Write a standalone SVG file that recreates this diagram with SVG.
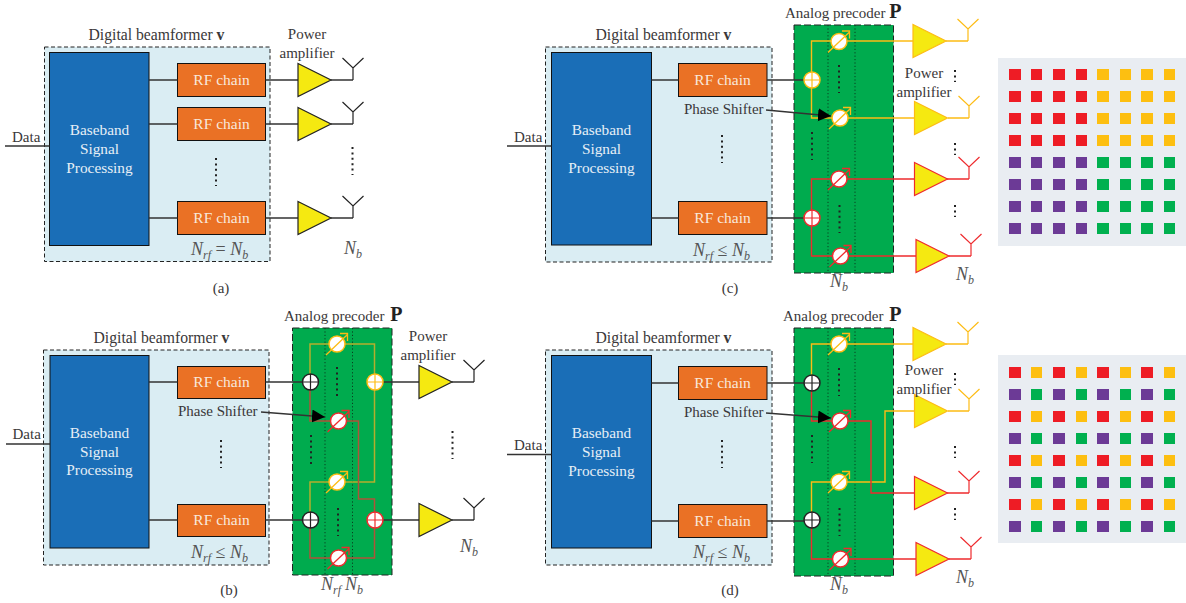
<svg xmlns="http://www.w3.org/2000/svg" width="1186" height="603" viewBox="0 0 1186 603">
<style>
text{font-family:"Liberation Serif","Times New Roman",serif;font-size:15px;fill:#3a3839}
.m{text-anchor:middle}
.d{font-size:15.7px}
.w{fill:#e6eef6;font-size:15.3px}
.rf{fill:#f8e8dc;font-size:15.5px}
.i{font-style:italic;font-size:18px;fill:#555}
.s{font-style:italic;font-size:12px;fill:#555}
.Pb{font-weight:bold;font-size:20px;fill:#222}
.dig{fill:#daedf3;stroke:#222;stroke-width:1;stroke-dasharray:4 2.5}
.bb{fill:#1a6eb7;stroke:#111;stroke-width:1}
.rfb{fill:#ea7125;stroke:#111;stroke-width:1}
.green{fill:#00ab4e;stroke:#222;stroke-width:1;stroke-dasharray:7 3}
.l{fill:none;stroke:#333;stroke-width:1.3}
.y{fill:none;stroke:#fdbc15;stroke-width:1.4}
.r{fill:none;stroke:#ee2b2e;stroke-width:1.4}
.yb{fill:none;stroke:#b5ae2c;stroke-width:1.5}
.rb{fill:none;stroke:#b0533a;stroke-width:1.5}
.dots{fill:none;stroke:#222;stroke-width:2;stroke-dasharray:2 3.4}
.fine{fill:none;stroke:#0a3d20;stroke-width:1;stroke-dasharray:1.2 2.2}
.bg{fill:#e9edf2}
.cK{color:#222}.cY{color:#fdbc15}.cR{color:#ee2b2e}
.R{fill:#ee1c25}.A{fill:#fdbf11}.P{fill:#6c3a96}.G{fill:#00b04f}
</style>
<defs>
<g id="ps"><circle r="8" fill="#fff" stroke="currentColor" stroke-width="1.5"/><path d="M-11 11L10.500-9.500M3-10.500H10.500V-3" fill="none" stroke="currentColor" stroke-width="1.3"/></g>
<g id="add"><circle r="8" fill="#fff" stroke="currentColor" stroke-width="1.5"/><path d="M-8 0H8M0-8V8" fill="none" stroke="currentColor" stroke-width="1.2"/></g>
<polygon id="amp" points="0,-16.500 33,0 0,16.500" fill="#f5e911" stroke="currentColor" stroke-width="1.2"/>
<path id="ant" d="M-10.500-22L0-12L10.500-22M0-12V0" fill="none" stroke="currentColor" stroke-width="1.2"/>
<marker id="ah" markerUnits="userSpaceOnUse" markerWidth="14" markerHeight="14" refX="13" refY="6.500" orient="auto"><path d="M0 0L13 6.500L0 13Z" fill="#000"/></marker>
</defs>

<g id="panel-a">
<g id="a-digital"><rect class="dig" x="44.500" y="47" width="225.500" height="214.500"/><text class="m d" x="156.500" y="40">Digital beamformer <tspan font-weight="bold">v</tspan></text></g>
<g id="a-baseband"><rect class="bb" x="49.500" y="52.500" width="99.500" height="193"/><text class="m w" x="99.500" y="135">Baseband</text><text class="m w" x="99.500" y="154">Signal</text><text class="m w" x="99.500" y="173">Processing</text></g>
<g id="a-rf1"><rect class="rfb" x="177.500" y="63.500" width="88" height="33"/><text class="m rf" x="221.500" y="85">RF chain</text></g>
<g id="a-rf2"><rect class="rfb" x="177.500" y="107.500" width="88" height="33"/><text class="m rf" x="221.500" y="129">RF chain</text></g>
<g id="a-rf3"><rect class="rfb" x="177.500" y="201.500" width="88" height="33"/><text class="m rf" x="221.500" y="223">RF chain</text></g>
<g id="a-conn">
<path class="l" d="M5 146H49.500M149 80H177.500M149 124H177.500M149 218H177.500M265.500 80H298M265.500 124H298M265.500 218H298M331 80H353M331 124H353M331 218H353"/>
<path class="dots" d="M216 158V186M352.500 147V175"/>
</g>
<g id="a-amp1" class="cK"><use href="#amp" x="298" y="80"/><use href="#ant" x="353" y="80"/></g>
<g id="a-amp2" class="cK"><use href="#amp" x="298" y="124"/><use href="#ant" x="353" y="124"/></g>
<g id="a-amp3" class="cK"><use href="#amp" x="298" y="218"/><use href="#ant" x="353" y="218"/></g>
<text x="12" y="142">Data</text>
<text class="m" x="307" y="39">Power</text><text class="m" x="307" y="58">amplifier</text>
<text class="i" x="191" y="255">N<tspan class="s" dy="4">rf</tspan><tspan dy="-4" font-style="normal"> = </tspan>N<tspan class="s" dy="4">b</tspan></text>
<text class="i" x="344" y="254">N<tspan class="s" dy="4">b</tspan></text>
<text class="m" x="221" y="293">(a)</text>
</g>

<g id="panel-b">
<g id="b-digital"><rect class="dig" x="43.500" y="350" width="225.500" height="215"/><text class="m d" x="161.500" y="343">Digital beamformer <tspan font-weight="bold">v</tspan></text></g>
<g id="b-baseband"><rect class="bb" x="50" y="355.500" width="99" height="192.500"/><text class="m w" x="99.500" y="438">Baseband</text><text class="m w" x="99.500" y="457">Signal</text><text class="m w" x="99.500" y="475">Processing</text></g>
<g id="b-rf1"><rect class="rfb" x="177.500" y="366.500" width="88" height="32"/><text class="m rf" x="221.500" y="387">RF chain</text></g>
<g id="b-rf2"><rect class="rfb" x="177.500" y="504.500" width="88" height="32"/><text class="m rf" x="221.500" y="525">RF chain</text></g>
<g id="b-precoder"><rect class="green" x="292.500" y="328" width="99.500" height="247"/><text x="284" y="321">Analog precoder <tspan class="Pb" dx="2">P</tspan></text></g>
<g id="b-conn">
<path class="fine" d="M325 328V575M352.500 328V575"/>
<path class="yb" d="M310 382V344H374.500V382M374.500 382V482H310V520"/>
<path class="rb" d="M310 382V421H358.500V499H374.500V558H310V520"/>
<path class="l" d="M6 444H50M149 382H177.500M149 520H177.500M265.500 382H310M265.500 520H310M375 382H419M375 520H419M452 382H474M452 520H474"/>
<path class="dots" d="M221 440V468M337 367V396M311 435V464M338 508V536M452.500 431V459"/>
<path class="l" d="M261 412L325 417" marker-end="url(#ah)"/>
</g>
<g id="b-ps1" class="cY"><use href="#ps" x="337" y="344"/></g>
<g id="b-ps2" class="cR"><use href="#ps" x="338.500" y="421"/></g>
<g id="b-ps3" class="cY"><use href="#ps" x="337" y="482"/></g>
<g id="b-ps4" class="cR"><use href="#ps" x="338.500" y="558"/></g>
<g id="b-add1" class="cK"><use href="#add" x="310.500" y="382"/></g>
<g id="b-add2" class="cK"><use href="#add" x="310.500" y="520"/></g>
<g id="b-add3" class="cY"><use href="#add" x="375" y="382"/></g>
<g id="b-add4" class="cR"><use href="#add" x="375" y="520"/></g>
<g id="b-amp1" class="cK"><use href="#amp" x="419" y="382"/><use href="#ant" x="474" y="382"/></g>
<g id="b-amp2" class="cK"><use href="#amp" x="419" y="520"/><use href="#ant" x="474" y="520"/></g>
<text x="12.500" y="439">Data</text>
<text x="178" y="416">Phase Shifter</text>
<text class="m" x="428" y="341">Power</text><text class="m" x="428" y="360">amplifier</text>
<text class="i" x="191" y="558">N<tspan class="s" dy="4">rf</tspan><tspan dy="-4" font-style="normal"> ≤ </tspan>N<tspan class="s" dy="4">b</tspan></text>
<text class="i" x="460" y="552">N<tspan class="s" dy="4">b</tspan></text>
<text class="i" x="321" y="590">N<tspan class="s" dy="4">rf</tspan></text>
<text class="i" x="345" y="590">N<tspan class="s" dy="4">b</tspan></text>
<text class="m" x="229" y="595">(b)</text>
</g>

<g id="panel-c">
<g id="c-digital"><rect class="dig" x="545.500" y="47" width="226.500" height="215"/><text class="m d" x="663.500" y="40">Digital beamformer <tspan font-weight="bold">v</tspan></text></g>
<g id="c-baseband"><rect class="bb" x="551.500" y="52.500" width="100" height="192.500"/><text class="m w" x="601.500" y="135">Baseband</text><text class="m w" x="601.500" y="154">Signal</text><text class="m w" x="601.500" y="173">Processing</text></g>
<g id="c-rf1"><rect class="rfb" x="678.500" y="63.500" width="88.500" height="33"/><text class="m rf" x="722.500" y="85">RF chain</text></g>
<g id="c-rf2"><rect class="rfb" x="678.500" y="201.500" width="88.500" height="33"/><text class="m rf" x="722.500" y="223">RF chain</text></g>
<g id="c-precoder"><rect class="green" x="794" y="25" width="99.500" height="248"/><text x="785" y="18">Analog precoder <tspan class="Pb">P</tspan></text></g>
<g id="c-conn">
<path class="fine" d="M828 25V273M855 25V273"/>
<path class="y" d="M913 41H811.500V118H914M946 41H968M948 118H969"/>
<path class="r" d="M914.500 179H811.500V256H916M947 179H969M949 256H971"/>
<path class="l" d="M507 146H551.500M651.500 80H678.500M651.500 218H678.500M767 80H812M767 218H812"/>
<path class="dots" d="M722 135V163M839 65V93M812 132V160M839.500 205V233M955 70V82M955 143V155M955 205V217"/>
<path class="l" d="M766 110L831 116" marker-end="url(#ah)"/>
</g>
<g id="c-ps1" class="cY"><use href="#ps" x="839" y="41.500"/></g>
<g id="c-ps2" class="cY"><use href="#ps" x="840" y="118"/></g>
<g id="c-ps3" class="cR"><use href="#ps" x="839" y="179"/></g>
<g id="c-ps4" class="cR"><use href="#ps" x="840.500" y="256"/></g>
<g id="c-add1" class="cY"><use href="#add" x="812" y="80"/></g>
<g id="c-add2" class="cR"><use href="#add" x="812" y="218"/></g>
<g id="c-amp1" class="cY"><use href="#amp" x="913" y="41"/><use href="#ant" x="968" y="41"/></g>
<g id="c-amp2" class="cY"><use href="#amp" x="914.500" y="118"/><use href="#ant" x="969" y="118"/></g>
<g id="c-amp3" class="cR"><use href="#amp" x="914.500" y="179"/><use href="#ant" x="969" y="179"/></g>
<g id="c-amp4" class="cR"><use href="#amp" x="916" y="256"/><use href="#ant" x="971" y="256"/></g>
<text x="514" y="142">Data</text>
<text x="684" y="114">Phase Shifter</text>
<text class="m" x="924" y="78">Power</text><text class="m" x="924" y="97">amplifier</text>
<text class="i" x="693" y="256">N<tspan class="s" dy="4">rf</tspan><tspan dy="-4" font-style="normal"> ≤ </tspan>N<tspan class="s" dy="4">b</tspan></text>
<text class="i" x="830" y="287">N<tspan class="s" dy="4">b</tspan></text>
<text class="i" x="956" y="280">N<tspan class="s" dy="4">b</tspan></text>
<text class="m" x="730" y="293">(c)</text>
</g>

<g id="panel-d">
<g id="d-digital"><rect class="dig" x="545.500" y="350" width="226.500" height="215"/><text class="m d" x="663.500" y="343">Digital beamformer <tspan font-weight="bold">v</tspan></text></g>
<g id="d-baseband"><rect class="bb" x="551.500" y="355.500" width="100" height="192.500"/><text class="m w" x="601.500" y="438">Baseband</text><text class="m w" x="601.500" y="457">Signal</text><text class="m w" x="601.500" y="476">Processing</text></g>
<g id="d-rf1"><rect class="rfb" x="678.500" y="366.500" width="88.500" height="33"/><text class="m rf" x="722.500" y="388">RF chain</text></g>
<g id="d-rf2"><rect class="rfb" x="678.500" y="504.500" width="88.500" height="33"/><text class="m rf" x="722.500" y="526">RF chain</text></g>
<g id="d-precoder"><rect class="green" x="794" y="328" width="99.500" height="248"/><text x="783" y="321">Analog precoder <tspan class="Pb" dx="2">P</tspan></text></g>
<g id="d-conn">
<path class="fine" d="M828 328V576M855 328V576"/>
<path class="y" d="M913 344H811.500V383M811.500 520V482H885V411H914.500M946 344H968M948 411H969"/>
<path class="r" d="M811.500 383V421H871V493H914.500M811.500 520V559H916M947 493H969M949 559H971"/>
<path class="l" d="M507 454.500H551.500M651.500 383H678.500M651.500 521H678.500M767 383H812M767 521H812"/>
<path class="dots" d="M722 440V468M839 368V396M812 435V463M839.500 508V536M955 373V385M955 446V458M955 508V520"/>
<path class="l" d="M766 413L831 418" marker-end="url(#ah)"/>
</g>
<g id="d-ps1" class="cY"><use href="#ps" x="839" y="344"/></g>
<g id="d-ps2" class="cR"><use href="#ps" x="840" y="421"/></g>
<g id="d-ps3" class="cY"><use href="#ps" x="839" y="482"/></g>
<g id="d-ps4" class="cR"><use href="#ps" x="840.500" y="559"/></g>
<g id="d-add1" class="cK"><use href="#add" x="812" y="383"/></g>
<g id="d-add2" class="cK"><use href="#add" x="812" y="520"/></g>
<g id="d-amp1" class="cY"><use href="#amp" x="913" y="344"/><use href="#ant" x="968" y="344"/></g>
<g id="d-amp2" class="cY"><use href="#amp" x="914.500" y="411"/><use href="#ant" x="969" y="411"/></g>
<g id="d-amp3" class="cR"><use href="#amp" x="914.500" y="493"/><use href="#ant" x="969" y="493"/></g>
<g id="d-amp4" class="cR"><use href="#amp" x="916" y="559"/><use href="#ant" x="971" y="559"/></g>
<text x="514" y="450">Data</text>
<text x="684" y="417">Phase Shifter</text>
<text class="m" x="924" y="375">Power</text><text class="m" x="924" y="394">amplifier</text>
<text class="i" x="693" y="558">N<tspan class="s" dy="4">rf</tspan><tspan dy="-4" font-style="normal"> ≤ </tspan>N<tspan class="s" dy="4">b</tspan></text>
<text class="i" x="830" y="590">N<tspan class="s" dy="4">b</tspan></text>
<text class="i" x="956" y="583">N<tspan class="s" dy="4">b</tspan></text>
<text class="m" x="730" y="595">(d)</text>
</g>

<g id="grid-1">
<rect class="bg" x="998" y="58" width="188" height="188"/>
<g class="R"><rect x="1009" y="69" width="12" height="11"/><rect x="1031" y="69" width="11" height="11"/><rect x="1053" y="69" width="12" height="11"/><rect x="1076" y="69" width="11" height="11"/><rect x="1009" y="91" width="12" height="11"/><rect x="1031" y="91" width="11" height="11"/><rect x="1053" y="91" width="12" height="11"/><rect x="1076" y="91" width="11" height="11"/><rect x="1009" y="113" width="12" height="11"/><rect x="1031" y="113" width="11" height="11"/><rect x="1053" y="113" width="12" height="11"/><rect x="1076" y="113" width="11" height="11"/><rect x="1009" y="135" width="12" height="11"/><rect x="1031" y="135" width="11" height="11"/><rect x="1053" y="135" width="12" height="11"/><rect x="1076" y="135" width="11" height="11"/></g>
<g class="A"><rect x="1097" y="69" width="12" height="11"/><rect x="1120" y="69" width="11" height="11"/><rect x="1141" y="69" width="12" height="11"/><rect x="1164" y="69" width="11" height="11"/><rect x="1097" y="91" width="12" height="11"/><rect x="1120" y="91" width="11" height="11"/><rect x="1141" y="91" width="12" height="11"/><rect x="1164" y="91" width="11" height="11"/><rect x="1097" y="113" width="12" height="11"/><rect x="1120" y="113" width="11" height="11"/><rect x="1141" y="113" width="12" height="11"/><rect x="1164" y="113" width="11" height="11"/><rect x="1097" y="135" width="12" height="11"/><rect x="1120" y="135" width="11" height="11"/><rect x="1141" y="135" width="12" height="11"/><rect x="1164" y="135" width="11" height="11"/></g>
<g class="P"><rect x="1009" y="157" width="12" height="11"/><rect x="1031" y="157" width="11" height="11"/><rect x="1053" y="157" width="12" height="11"/><rect x="1076" y="157" width="11" height="11"/><rect x="1009" y="179" width="12" height="11"/><rect x="1031" y="179" width="11" height="11"/><rect x="1053" y="179" width="12" height="11"/><rect x="1076" y="179" width="11" height="11"/><rect x="1009" y="201" width="12" height="11"/><rect x="1031" y="201" width="11" height="11"/><rect x="1053" y="201" width="12" height="11"/><rect x="1076" y="201" width="11" height="11"/><rect x="1009" y="223" width="12" height="11"/><rect x="1031" y="223" width="11" height="11"/><rect x="1053" y="223" width="12" height="11"/><rect x="1076" y="223" width="11" height="11"/></g>
<g class="G"><rect x="1097" y="157" width="12" height="11"/><rect x="1120" y="157" width="11" height="11"/><rect x="1141" y="157" width="12" height="11"/><rect x="1164" y="157" width="11" height="11"/><rect x="1097" y="179" width="12" height="11"/><rect x="1120" y="179" width="11" height="11"/><rect x="1141" y="179" width="12" height="11"/><rect x="1164" y="179" width="11" height="11"/><rect x="1097" y="201" width="12" height="11"/><rect x="1120" y="201" width="11" height="11"/><rect x="1141" y="201" width="12" height="11"/><rect x="1164" y="201" width="11" height="11"/><rect x="1097" y="223" width="12" height="11"/><rect x="1120" y="223" width="11" height="11"/><rect x="1141" y="223" width="12" height="11"/><rect x="1164" y="223" width="11" height="11"/></g>
</g>

<g id="grid-2">
<rect class="bg" x="998" y="355" width="188" height="188"/>
<g class="R"><rect x="1009" y="367" width="12" height="11"/><rect x="1053" y="367" width="12" height="11"/><rect x="1097" y="367" width="12" height="11"/><rect x="1141" y="367" width="12" height="11"/><rect x="1009" y="411" width="12" height="11"/><rect x="1053" y="411" width="12" height="11"/><rect x="1097" y="411" width="12" height="11"/><rect x="1141" y="411" width="12" height="11"/><rect x="1009" y="455" width="12" height="11"/><rect x="1053" y="455" width="12" height="11"/><rect x="1097" y="455" width="12" height="11"/><rect x="1141" y="455" width="12" height="11"/><rect x="1009" y="499" width="12" height="11"/><rect x="1053" y="499" width="12" height="11"/><rect x="1097" y="499" width="12" height="11"/><rect x="1141" y="499" width="12" height="11"/></g>
<g class="A"><rect x="1031" y="367" width="11" height="11"/><rect x="1076" y="367" width="11" height="11"/><rect x="1120" y="367" width="11" height="11"/><rect x="1164" y="367" width="11" height="11"/><rect x="1031" y="411" width="11" height="11"/><rect x="1076" y="411" width="11" height="11"/><rect x="1120" y="411" width="11" height="11"/><rect x="1164" y="411" width="11" height="11"/><rect x="1031" y="455" width="11" height="11"/><rect x="1076" y="455" width="11" height="11"/><rect x="1120" y="455" width="11" height="11"/><rect x="1164" y="455" width="11" height="11"/><rect x="1031" y="499" width="11" height="11"/><rect x="1076" y="499" width="11" height="11"/><rect x="1120" y="499" width="11" height="11"/><rect x="1164" y="499" width="11" height="11"/></g>
<g class="P"><rect x="1009" y="389" width="12" height="11"/><rect x="1053" y="389" width="12" height="11"/><rect x="1097" y="389" width="12" height="11"/><rect x="1141" y="389" width="12" height="11"/><rect x="1009" y="433" width="12" height="11"/><rect x="1053" y="433" width="12" height="11"/><rect x="1097" y="433" width="12" height="11"/><rect x="1141" y="433" width="12" height="11"/><rect x="1009" y="477" width="12" height="11"/><rect x="1053" y="477" width="12" height="11"/><rect x="1097" y="477" width="12" height="11"/><rect x="1141" y="477" width="12" height="11"/><rect x="1009" y="521" width="12" height="11"/><rect x="1053" y="521" width="12" height="11"/><rect x="1097" y="521" width="12" height="11"/><rect x="1141" y="521" width="12" height="11"/></g>
<g class="G"><rect x="1031" y="389" width="11" height="11"/><rect x="1076" y="389" width="11" height="11"/><rect x="1120" y="389" width="11" height="11"/><rect x="1164" y="389" width="11" height="11"/><rect x="1031" y="433" width="11" height="11"/><rect x="1076" y="433" width="11" height="11"/><rect x="1120" y="433" width="11" height="11"/><rect x="1164" y="433" width="11" height="11"/><rect x="1031" y="477" width="11" height="11"/><rect x="1076" y="477" width="11" height="11"/><rect x="1120" y="477" width="11" height="11"/><rect x="1164" y="477" width="11" height="11"/><rect x="1031" y="521" width="11" height="11"/><rect x="1076" y="521" width="11" height="11"/><rect x="1120" y="521" width="11" height="11"/><rect x="1164" y="521" width="11" height="11"/></g>
</g>
</svg>
